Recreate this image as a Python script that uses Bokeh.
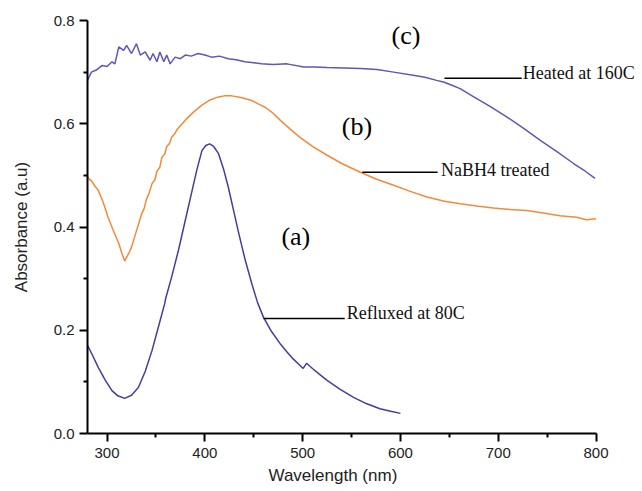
from bokeh.plotting import figure
from bokeh.models import FixedTicker, NumeralTickFormatter, Label, Range1d, Title
from bokeh.embed import file_html
from bokeh.resources import INLINE

# Curve (a): refluxed at 80C
wl_a = [280, 285, 291, 298, 305, 311, 318, 325, 332, 339, 346, 352, 359, 360, 366,
        373, 380, 387, 392, 397, 401, 405, 409, 414, 419, 424, 429, 434, 441, 448,
        454, 460, 468, 477, 484, 490, 496, 500.5, 504, 510, 517, 525, 538, 552, 565,
        579, 590, 600]
abs_a = [0.171, 0.152, 0.128, 0.104, 0.083, 0.073, 0.068, 0.074, 0.089, 0.120, 0.161,
         0.203, 0.252, 0.262, 0.303, 0.355, 0.413, 0.471, 0.512, 0.548, 0.558, 0.561,
         0.556, 0.542, 0.513, 0.477, 0.435, 0.393, 0.338, 0.290, 0.253, 0.225, 0.198,
         0.174, 0.158, 0.145, 0.134, 0.126, 0.136, 0.126, 0.115, 0.103, 0.086, 0.070,
         0.058, 0.048, 0.043, 0.039]

# Curve (b): NaBH4 treated
wl_b = [280, 282, 284, 288, 291, 296, 301, 306, 312, 315, 318, 321, 323, 325, 330,
        335.5, 338, 340, 343, 346, 349, 351, 354, 356, 359, 361, 364, 366, 369, 372,
        380, 388, 397, 405, 414, 420, 427.5, 437, 448, 455, 461.6, 470, 477, 487, 497,
        510, 525, 540, 559, 575, 593, 610, 627, 645, 661, 680, 695, 712, 729, 746,
        763, 780, 790, 800]
abs_b = [0.497, 0.492, 0.490, 0.478, 0.471, 0.448, 0.419, 0.395, 0.368, 0.350, 0.334,
         0.345, 0.352, 0.361, 0.392, 0.426, 0.436, 0.452, 0.466, 0.484, 0.492, 0.508,
         0.516, 0.535, 0.541, 0.556, 0.562, 0.574, 0.580, 0.590, 0.607, 0.622, 0.636,
         0.646, 0.652, 0.654, 0.654, 0.651, 0.645, 0.638, 0.632, 0.620, 0.607, 0.590,
         0.574, 0.556, 0.539, 0.523, 0.506, 0.493, 0.481, 0.469, 0.458, 0.450, 0.445,
         0.440, 0.437, 0.434, 0.432, 0.427, 0.422, 0.419, 0.414, 0.416]

# Curve (c): heated at 160C
wl_c = [280, 284, 289, 295, 300, 305, 308, 312, 317, 320, 325, 330, 334, 339, 344,
        347, 351, 354, 358, 361, 364.5, 369.6, 375, 380, 386, 393, 400, 407, 415, 424,
        432, 441, 450, 458, 470, 484, 501, 512, 525, 542, 559, 576, 593, 613, 625,
        637, 644, 652, 661, 675, 692, 709, 726, 743, 760, 777, 789, 799]
abs_c = [0.684, 0.700, 0.704, 0.713, 0.711, 0.720, 0.716, 0.749, 0.742, 0.752, 0.736,
         0.755, 0.733, 0.739, 0.723, 0.736, 0.720, 0.739, 0.720, 0.733, 0.716, 0.729,
         0.726, 0.733, 0.731, 0.736, 0.733, 0.729, 0.731, 0.726, 0.724, 0.720, 0.718,
         0.716, 0.715, 0.716, 0.710, 0.710, 0.709, 0.708, 0.707, 0.705, 0.700, 0.694,
         0.690, 0.684, 0.681, 0.675, 0.668, 0.652, 0.633, 0.613, 0.591, 0.568, 0.546,
         0.523, 0.508, 0.494]

x_ticks = [300, 400, 500, 600, 700, 800]
x_minor = [350, 450, 550, 650, 750]
y_ticks = [0.0, 0.2, 0.4, 0.6, 0.8]
y_minor = [0.1, 0.3, 0.5, 0.7]

# Annotation texts and pointer lines
tags = ["(c)", "(b)", "(a)"]
tag_x = [605.7, 555.6, 493]
tag_y = [0.771, 0.595, 0.382]

notes = ["Heated at 160C", "NaBH4 treated", "Refluxed at 80C"]
note_x = [725, 641.5, 545]
note_y = [0.698, 0.510, 0.234]
ptr_x0 = [645, 561, 460]
ptr_x1 = [724, 638, 543]
ptr_y = [0.688, 0.506, 0.223]

# frame extends to the right of 800 nm so the right-hand note is not clipped;
# the axis itself is bounded to 280-800
p = figure(width=642, height=491, output_backend="svg", toolbar_location=None,
           x_range=Range1d(280, 847.5), y_range=Range1d(0, 0.8),
           min_border_left=87, min_border_right=0, min_border_top=20,
           min_border_bottom=58)

p.outline_line_color = None
p.xgrid.grid_line_color = None
p.ygrid.grid_line_color = None
p.background_fill_color = "white"
p.border_fill_color = "white"

p.line(wl_a, abs_a, line_color="#463c9c", line_width=1.5)
p.line(wl_b, abs_b, line_color="#f28a3a", line_width=1.5)
p.line(wl_c, abs_c, line_color="#6553b5", line_width=1.5)

p.segment(x0=ptr_x0, y0=ptr_y, x1=ptr_x1, y1=ptr_y, line_color="black", line_width=1.5)

for t, x, y in zip(tags, tag_x, tag_y):
    p.add_layout(Label(x=x, y=y, text=t, text_font="Liberation Serif",
                       text_font_size="26px", text_align="center",
                       text_baseline="middle", text_color="black"))
for t, x, y in zip(notes, note_x, note_y):
    p.add_layout(Label(x=x, y=y, text=t, text_font="Liberation Serif",
                       text_font_size="18px", text_align="left",
                       text_baseline="middle", text_color="#111111"))

for ax in (p.xaxis[0], p.yaxis[0]):
    ax.axis_line_width = 2
    ax.axis_line_color = "black"
    ax.major_tick_line_width = 2
    ax.minor_tick_line_width = 2
    ax.major_tick_out = 8
    ax.major_tick_in = 0
    ax.minor_tick_out = 4
    ax.minor_tick_in = 0
    ax.major_label_text_font = "Liberation Sans"
    ax.major_label_text_font_size = "15px"
    ax.major_label_text_color = "#222222"

p.xaxis.bounds = (280, 800)
p.xaxis.ticker = FixedTicker(ticks=x_ticks, minor_ticks=x_minor)
p.yaxis.ticker = FixedTicker(ticks=y_ticks, minor_ticks=y_minor)
p.yaxis.formatter = NumeralTickFormatter(format="0.0")
p.xaxis.major_label_standoff = 6
p.yaxis.major_label_standoff = 5

p.yaxis.axis_label = "Absorbance (a.u)"
p.yaxis.axis_label_text_font = "Liberation Sans"
p.yaxis.axis_label_text_font_size = "17px"
p.yaxis.axis_label_text_font_style = "normal"
p.yaxis.axis_label_text_color = "#222222"
p.yaxis.axis_label_standoff = 20

# x-axis title, placed so it is centred under the 280-800 span
p.add_layout(Title(text="Wavelength (nm)", align="left", offset=181,
                   text_font="Liberation Sans", text_font_size="17px",
                   text_font_style="normal", text_color="#222222",
                   standoff=7), "below")

open("out.html", "w").write(file_html(p, INLINE))
